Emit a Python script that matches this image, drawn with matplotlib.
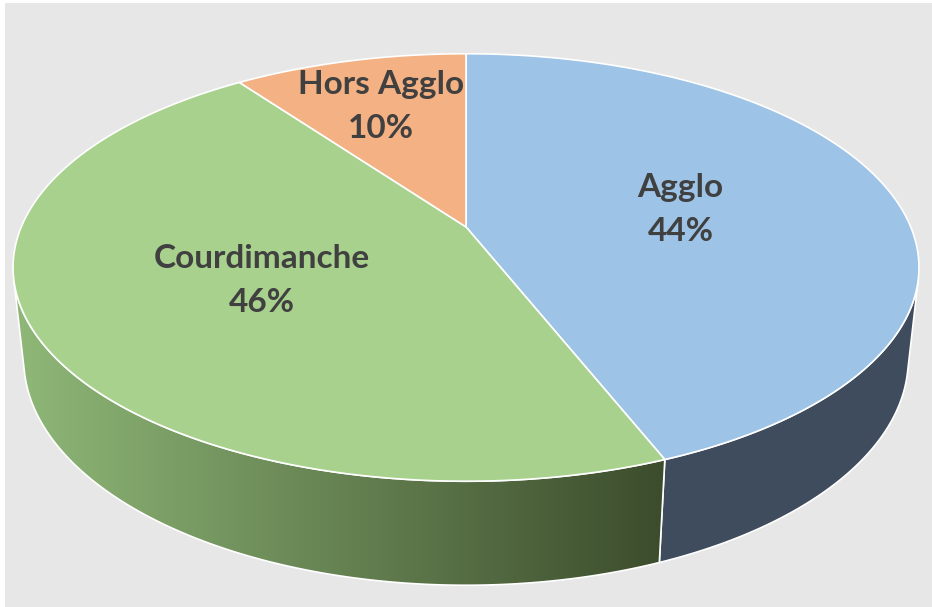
import numpy as np
import matplotlib.pyplot as plt
from matplotlib.patches import Polygon, Rectangle
from matplotlib.colors import LinearSegmentedColormap

# data
labels = ["Agglo", "Courdimanche", "Hors Agglo"]
shares = [44, 46, 10]

# styles
top_colors = ["#9dc3e6", "#a9d18e", "#f4b183"]
side_colors = ["#3e4c5d", None, "#b98255"]
green_side = ["#8fb878", "#3c4c2c"]
label_radius = [0.5, 0.5, 0.7]
text_color = "#404040"

# 3d view (unit radius pie, camera above the front edge)
elev = np.radians(27.6)
dist = 4.666
focal = 2075.0
depth = 0.235
cx, cy = 466.0, 226.9


def project(t, r=1.0, z=0.0):
    t = np.asarray(t, dtype=float)
    xc = r * np.cos(t)
    yc = r * np.sin(t) * np.sin(elev) + z * np.cos(elev)
    zc = r * np.sin(t) * np.cos(elev) + dist - z * np.sin(elev)
    return cx + focal * xc / zc, cy - focal * yc / zc


fig = plt.figure(figsize=(9.32, 6.07), dpi=100, facecolor="white")
ax = fig.add_axes([0, 0, 1, 1])
ax.set_xlim(0, 932)
ax.set_ylim(607, 0)
ax.axis("off")
ax.add_patch(Rectangle((5, 3), 927, 604, facecolor="#e7e7e7", edgecolor="none", zorder=0))

fracs = np.array(shares, dtype=float) / sum(shares)
ends = np.pi / 2 - 2 * np.pi * np.cumsum(fracs)
starts = np.concatenate([[np.pi / 2], ends[:-1]])

# visible part of the side wall
sil = np.arcsin(1.0 / (dist * np.cos(elev)))
front_lo, front_hi = -np.pi + sil, -sil

for i in range(len(shares)):
    lo = max(ends[i], front_lo)
    hi = min(starts[i], front_hi)
    if lo >= hi:
        continue
    tt = np.linspace(hi, lo, 200)
    xt, yt = project(tt)
    xb, yb = project(tt[::-1], z=-depth)
    pts = np.column_stack([np.concatenate([xt, xb]), np.concatenate([yt, yb])])
    if side_colors[i] is None:
        poly = Polygon(pts, closed=True, facecolor="none", edgecolor="white", lw=1.2, zorder=3)
        ax.add_patch(poly)
        cmap = LinearSegmentedColormap.from_list("side", green_side)
        grad = np.linspace(0, 1, 256).reshape(1, -1)
        x0, x1 = pts[:, 0].min(), pts[:, 0].max()
        im = ax.imshow(grad, cmap=cmap, aspect="auto", extent=(x0, x1, 607, 0), zorder=2)
        im.set_clip_path(poly)
    else:
        ax.add_patch(Polygon(pts, closed=True, facecolor=side_colors[i], edgecolor="white", lw=1.2, zorder=2))

for i in range(len(shares)):
    tt = np.linspace(starts[i], ends[i], 200)
    xt, yt = project(tt)
    pts = np.column_stack([np.concatenate([[cx], xt]), np.concatenate([[cy], yt])])
    ax.add_patch(Polygon(pts, closed=True, facecolor=top_colors[i], edgecolor="white", lw=1.2, zorder=4))

    mid = (starts[i] + ends[i]) / 2
    lx, ly = project(mid, r=label_radius[i])
    ax.text(lx, ly - 11, labels[i], ha="center", va="baseline", fontsize=24,
            fontweight="bold", family="Lato", color=text_color, zorder=5)
    ax.text(lx, ly + 33, f"{shares[i]}%", ha="center", va="baseline", fontsize=24,
            fontweight="bold", family="Lato", color=text_color, zorder=5)

fig.savefig("out.png", dpi=100, facecolor="white")
